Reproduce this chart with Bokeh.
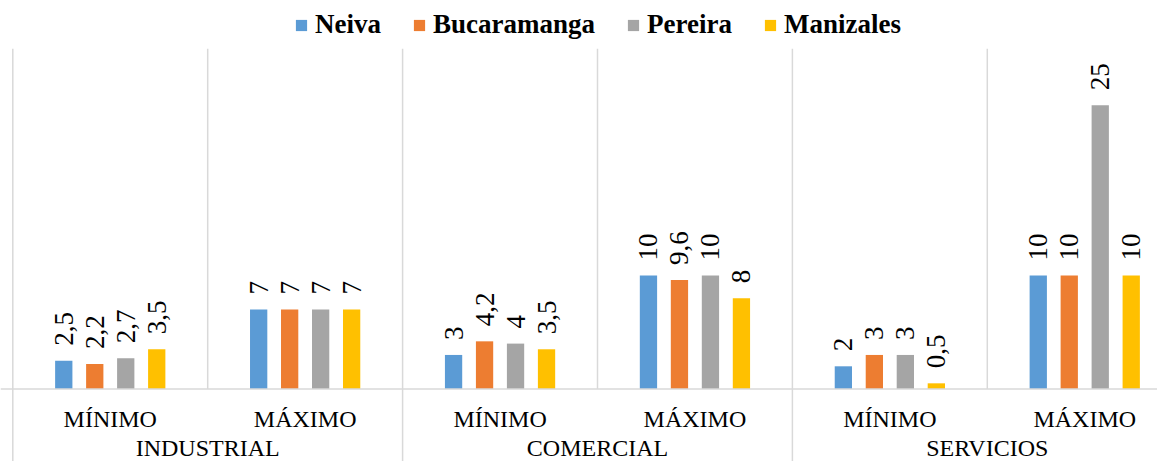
import math
from bokeh.plotting import figure
from bokeh.models import Range1d, ColumnDataSource, Legend, LegendItem, Span
from bokeh.core.properties import value
from bokeh.embed import file_html
from bokeh.resources import INLINE

# ---- data ----
groups = ["INDUSTRIAL", "COMERCIAL", "SERVICIOS"]
levels = ["MÍNIMO", "MÁXIMO"]
series = ["Neiva", "Bucaramanga", "Pereira", "Manizales"]
neiva = [2.5, 7, 3, 10, 2, 10]
bucaramanga = [2.2, 7, 4.2, 9.6, 3, 10]
pereira = [2.7, 7, 4, 10, 3, 25]
manizales = [3.5, 7, 3.5, 8, 0.5, 10]
colors = ["#5B9BD5", "#ED7D31", "#A5A5A5", "#FFC000"]
values_all = [neiva, bucaramanga, pereira, manizales]

# ---- layout constants ----
W, H = 1157, 461
UNIT = 194.9           # px per sub-category
LEFT = 12.3            # px of first boundary
PX_PER_VAL = 11.35
BASE = 388.5           # px of baseline from top
FONT = "Liberation Serif"

x0 = -LEFT / UNIT
x1 = (W - LEFT) / UNIT
y1 = BASE / PX_PER_VAL
y0 = -(H - BASE) / PX_PER_VAL

def ypx(px):
    return (BASE - px) / PX_PER_VAL

p = figure(width=W, height=H, x_range=Range1d(x0, x1), y_range=Range1d(y0, y1),
           output_backend="svg", toolbar_location=None,
           x_axis_location=None, y_axis_location=None, min_border=0)
p.grid.visible = False
p.outline_line_color = None
p.background_fill_color = "white"
p.border_fill_color = "white"

ncat = len(groups) * len(levels)
cats = [(g, l) for g in groups for l in levels]
centers = [i + 0.5 for i in range(ncat)]

# separators
top_val = ypx(48.3)
sep_x = list(range(ncat))
sep_y1 = [y0 if i % len(levels) == 0 else 0 for i in sep_x]
p.segment(x0=sep_x, y0=[top_val] * len(sep_x), x1=sep_x, y1=sep_y1,
          line_color="#D9D9D9", line_width=1.5)
p.add_layout(Span(location=0, dimension="width", line_color="#D9D9D9", line_width=1.5))

# bars
step = 0.159
bw = 0.0887
items = []
for k, (name, vals, col) in enumerate(zip(series, values_all, colors)):
    off = (k - (len(series) - 1) / 2) * step
    xs = [c + off for c in centers]
    labels = [("%g" % v).replace(".", ",") for v in vals]
    src = ColumnDataSource(dict(x=xs, top=vals, lab=labels))
    r = p.vbar(x="x", top="top", width=bw, bottom=0, source=src,
               fill_color=col, line_color=None)
    p.text(x="x", y="top", text="lab", source=src, angle=math.pi / 2,
           text_align="left", text_baseline="middle", y_offset=-15,
           text_font=value(FONT), text_font_size="27px", text_color="#000000")
    items.append(LegendItem(label=name, renderers=[r]))

# category labels
p.text(x=centers, y=[ypx(418)] * ncat, text=[c[1] for c in cats],
       text_align="center", text_baseline="alphabetic",
       text_font=value(FONT), text_font_size="24px", text_color="#000000")
gcent = [g * len(levels) + len(levels) / 2 for g in range(len(groups))]
p.text(x=gcent, y=[ypx(447.5)] * len(groups), text=groups,
       text_align="center", text_baseline="alphabetic",
       text_font=value(FONT), text_font_size="24px", text_color="#000000")

legend = Legend(items=items, orientation="horizontal", location=(294, H - 40),
                glyph_width=14, glyph_height=14, label_standoff=7, spacing=31,
                padding=0, margin=0, border_line_color=None,
                background_fill_alpha=0,
                label_text_font=FONT, label_text_font_size="27px",
                label_text_font_style="bold", label_text_color="#000000")
p.add_layout(legend)

open("out.html", "w").write(file_html(p, INLINE))
